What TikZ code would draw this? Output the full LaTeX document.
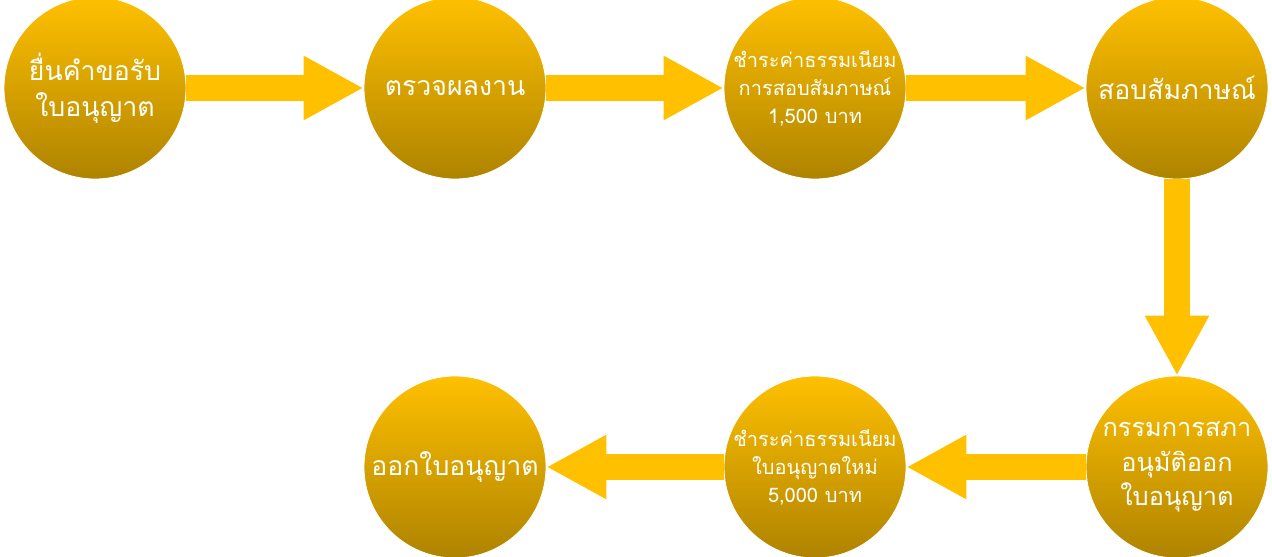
\documentclass[tikz,border=0pt]{standalone}
\usepackage{fontspec}
\newfontfamily\thaifont[Script=Thai]{Loma}
\usetikzlibrary{arrows.meta}
\definecolor{gold}{HTML}{FFC000}
\definecolor{darkgold}{HTML}{AE8300}
\begin{document}
\begin{tikzpicture}[x=0.75pt,y=-0.75pt,
	stepdot/.style={circle,draw=white,line width=.6pt,top color=gold,bottom color=darkgold,minimum size=136.5pt,inner sep=-12pt,align=center,text=white,font=\thaifont\fontsize{20}{27}\selectfont},
	small/.style={font=\thaifont\fontsize{15}{21}\selectfont},
	flow/.style={gold,line width=19.5pt,-{Triangle[length=45pt,width=45pt]}}]
		\useasboundingbox (0,0) rectangle (1272,557);
		\node[stepdot] (apply) at (95,88) {ยื่นคำขอรับ\\ใบอนุญาต};
		\node[stepdot] (check) at (455,88) {ตรวจผลงาน};
		\node[stepdot,small] (fee1) at (815,88) {ชำระค่าธรรมเนียม\\การสอบสัมภาษณ์\\1,500 บาท};
		\node[stepdot] (interview) at (1177,88) {สอบสัมภาษณ์};
		\node[stepdot,font=\thaifont\fontsize{19}{26}\selectfont] (approve) at (1177,467) {กรรมการสภา\\อนุมัติออก\\ใบอนุญาต};
		\node[stepdot,small] (fee2) at (815,467) {ชำระค่าธรรมเนียม\\ใบอนุญาตใหม่\\5,000 บาท};
		\node[stepdot] (issue) at (455,467) {ออกใบอนุญาต};
		\draw[flow] (apply) -- (check);
		\draw[flow] (check) -- (fee1);
		\draw[flow] (fee1) -- (interview);
		\draw[flow] (interview) -- (approve);
		\draw[flow] (approve) -- (fee2);
		\draw[flow] (fee2) -- (issue);
		\end{tikzpicture}
\end{document}
